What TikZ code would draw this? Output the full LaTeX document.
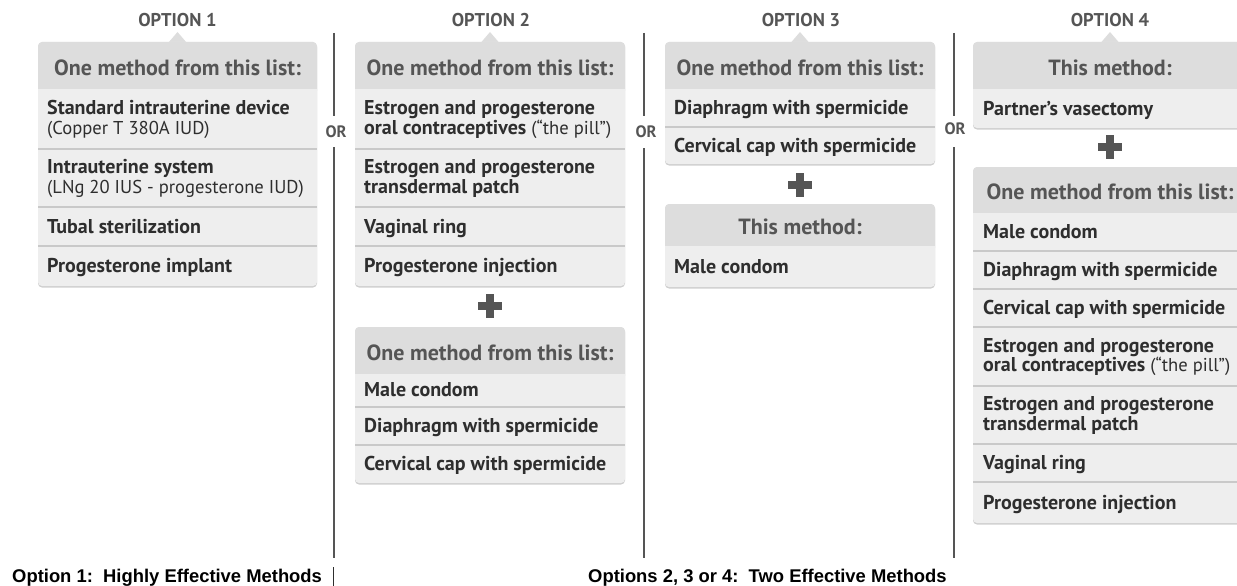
\documentclass[tikz,border=0pt]{standalone}
\usepackage{fontspec}
\setmainfont{PT Sans}
\newfontfamily\capfont{Liberation Sans}
\definecolor{headc}{HTML}{DDDDDD}
\definecolor{bodyc}{HTML}{EEEEEE}
\definecolor{shadc}{HTML}{CFCFCF}
\definecolor{sepc}{HTML}{C9C9C9}
\definecolor{headtxtc}{HTML}{555555}
\definecolor{rowtxtc}{HTML}{2E2E2E}
\definecolor{linec}{HTML}{555555}
\newcommand{\mycard}[5]{%
  \fill[shadc, rounded corners=4pt] (#1,#3+1.5) rectangle (#2,#5+1.5);
  \fill[bodyc, rounded corners=4pt] (#1,#3) rectangle (#2,#5);
  \fill[headc, rounded corners=4pt] (#1,#3) rectangle (#2,#4+6);
  \fill[bodyc] (#1,#4) rectangle (#2,#4+7);
}
\newcommand{\mysep}[3]{\draw[sepc, line width=1.2pt] (#1,#3) -- (#2,#3);}
\newcommand{\mypoint}[1]{\fill[headc] (#1-9,42.5) -- (#1,32) -- (#1+9,42.5) -- cycle;}
\newcommand{\myplus}[2]{%
  \fill[headtxtc] (#1-12,#2-3.75) rectangle (#1+12,#2+3.75);
  \fill[headtxtc] (#1-3.75,#2-12) rectangle (#1+3.75,#2+12);}
\newcommand{\twol}[2]{\vtop{\baselineskip=19.5pt\lineskiplimit=-10pt\hbox{#1}\hbox{#2}}}
\newcommand{\reg}[1]{{\mdseries\fontsize{18.6}{20}\selectfont #1}}
\begin{document}
\begin{tikzpicture}[x=1pt,y=-1pt,
  titletxt/.style={font=\fontsize{18.5}{20}\selectfont\bfseries, text=headtxtc, anchor=base, inner sep=0pt},
  ortxt/.style={font=\fontsize{16.5}{18}\selectfont\bfseries, text=headtxtc, anchor=base, inner sep=0pt},
  headtxt/.style={font=\fontsize{22}{24}\selectfont\bfseries, text=headtxtc, anchor=base, inner sep=0pt},
  rowtxt/.style={font=\fontsize{20}{21}\selectfont\bfseries, text=rowtxtc, anchor=base west, inner sep=0pt},
  captxt/.style={font=\capfont\fontsize{18.4}{20}\selectfont\bfseries, text=black, anchor=base west, inner sep=0pt},
  vline/.style={draw=linec, line width=1.8pt}]
\useasboundingbox (0,0) rectangle (1237,586);
\clip (0,0) rectangle (1237,586);

% titles
\node[titletxt] (t1) at (177.5,27) {OPTION 1};
\node[titletxt] (t2) at (491,27) {OPTION 2};
\node[titletxt] (t3) at (801,27) {OPTION 3};
\node[titletxt] (t4) at (1110,27) {OPTION 4};

% separator lines and OR
\coordinate (l1a) at (334,33); \coordinate (l1b) at (334,116);
\coordinate (l1c) at (334,147); \coordinate (l1d) at (334,558);
\coordinate (l2a) at (644,33); \coordinate (l2b) at (644,116);
\coordinate (l2c) at (644,148); \coordinate (l2d) at (644,558);
\coordinate (l3a) at (954,33); \coordinate (l3b) at (954,116);
\coordinate (l3c) at (954,147); \coordinate (l3d) at (954,558);
\draw[vline] (l1a) -- (l1b); \draw[vline] (l1c) -- (l1d);
\draw[vline] (l2a) -- (l2b); \draw[vline] (l2c) -- (l2d);
\draw[vline] (l3a) -- (l3b); \draw[vline] (l3c) -- (l3d);
\node[ortxt] (or1) at (336,137.5) {OR};
\node[ortxt] (or2) at (646,137) {OR};
\node[ortxt] (or3) at (955,134) {OR};

% ---------- Option 1
\mypoint{177.5}
\mycard{38}{317}{42}{89}{286}
\mysep{38}{317}{149}\mysep{38}{317}{207}\mysep{38}{317}{246}
\node[headtxt] (h1) at (177.5,75) {One method from this list:};
\node[rowtxt] (r11) at (47,114.5) {\twol{Standard intrauterine device}{\reg{(Copper T 380A IUD)}}};
\node[rowtxt] (r12) at (47,173.5) {\twol{Intrauterine system}{\reg{(LNg 20 IUS - progesterone IUD)}}};
\node[rowtxt] (r13) at (47,233) {Tubal sterilization};
\node[rowtxt] (r14) at (47,272.5) {Progesterone implant};

% ---------- Option 2
\mypoint{490}
\mycard{355}{625}{42}{89}{286}
\mysep{355}{625}{149}\mysep{355}{625}{207}\mysep{355}{625}{246}
\node[headtxt] (h2) at (490,75) {One method from this list:};
\node[rowtxt] (r21) at (364,114.5) {\twol{Estrogen and progesterone}{oral contraceptives \reg{(“the pill”)}}};
\node[rowtxt] (r22) at (364,173.5) {\twol{Estrogen and progesterone}{transdermal patch}};
\node[rowtxt] (r23) at (364,233) {Vaginal ring};
\node[rowtxt] (r24) at (364,272.5) {Progesterone injection};
\myplus{490}{306}
\mycard{355}{625}{327}{374}{483}
\mysep{355}{625}{407}\mysep{355}{625}{445}
\node[headtxt] (h2b) at (490,360) {One method from this list:};
\node[rowtxt] (r25) at (364,396) {Male condom};
\node[rowtxt] (r26) at (364,432.5) {Diaphragm with spermicide};
\node[rowtxt] (r27) at (364,470.5) {Cervical cap with spermicide};

% ---------- Option 3
\mypoint{800}
\mycard{665}{935}{42}{89}{164}
\mysep{665}{935}{127}
\node[headtxt] (h3) at (800,75) {One method from this list:};
\node[rowtxt] (r31) at (674,114.5) {Diaphragm with spermicide};
\node[rowtxt] (r32) at (674,152) {Cervical cap with spermicide};
\myplus{800}{185}
\mycard{665}{935}{204}{246}{287}
\node[headtxt] (h3b) at (800,234.5) {This method:};
\node[rowtxt] (r33) at (674,273) {Male condom};

% ---------- Option 4
\mypoint{1110}
\mycard{973}{1245}{42}{89}{128}
\node[headtxt] (h4) at (1110,75) {This method:};
\node[rowtxt] (r41) at (983,115) {Partner’s vasectomy};
\myplus{1110}{147}
\mycard{973}{1245}{167}{213}{523}
\mysep{973}{1245}{251}\mysep{973}{1245}{289}\mysep{973}{1245}{327}
\mysep{973}{1245}{386}\mysep{973}{1245}{444}\mysep{973}{1245}{482}
\node[headtxt] (h4b) at (1110,199.5) {One method from this list:};
\node[rowtxt] (r42) at (983,238.5) {Male condom};
\node[rowtxt] (r43) at (983,276.5) {Diaphragm with spermicide};
\node[rowtxt] (r44) at (983,314.5) {Cervical cap with spermicide};
\node[rowtxt] (r45) at (983,352) {\twol{Estrogen and progesterone}{oral contraceptives \reg{(“the pill”)}}};
\node[rowtxt] (r46) at (983,410.5) {\twol{Estrogen and progesterone}{transdermal patch}};
\node[rowtxt] (r47) at (983,469.5) {Vaginal ring};
\node[rowtxt] (r48) at (983,509) {Progesterone injection};

% ---------- captions
\node[captxt] (c1) at (12,582) {Option 1:\ \ Highly Effective Methods};
\coordinate (cb1) at (333.5,567); \coordinate (cb2) at (333.5,590);
\draw[draw=rowtxtc, line width=1.5pt] (cb1) -- (cb2);
\node[captxt] (c2) at (588,582) {Options 2, 3 or 4:\ \ Two Effective Methods};
\end{tikzpicture}
\end{document}
